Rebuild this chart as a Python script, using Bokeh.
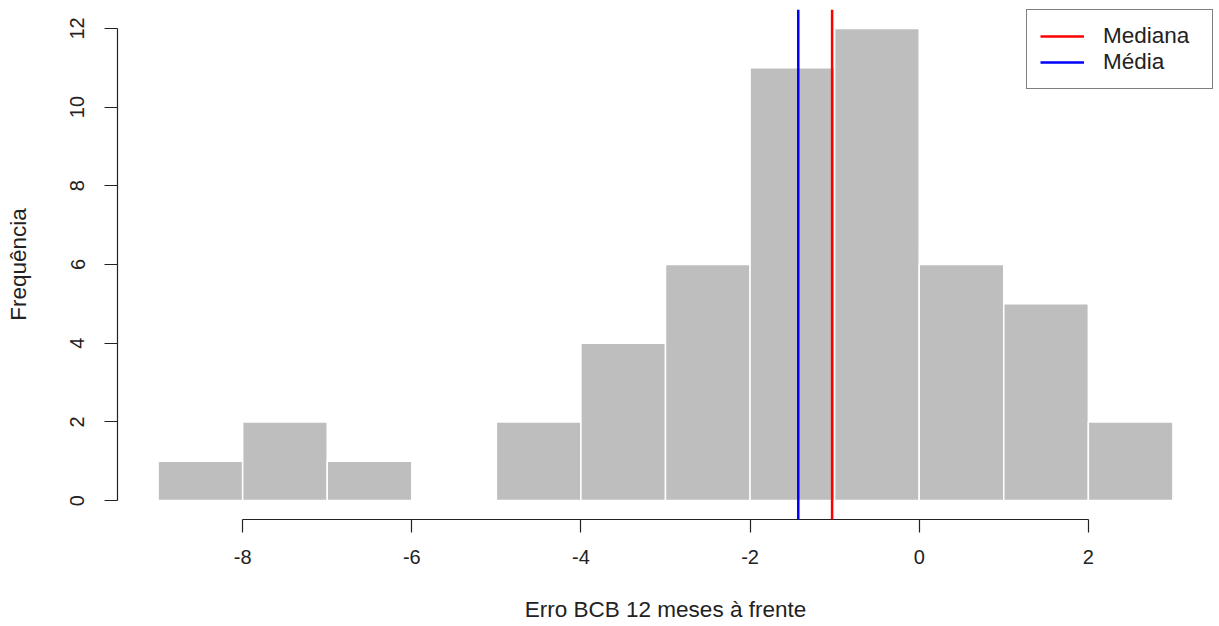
from bokeh.plotting import figure
from bokeh.models import Span, Legend, LegendItem, Range1d, FixedTicker
from bokeh.embed import file_html
from bokeh.resources import INLINE

bin_edges = [-9, -8, -7, -6, -5, -4, -3, -2, -1, 0, 1, 2, 3]
counts = [1, 2, 1, 0, 2, 4, 6, 11, 12, 6, 5, 2]
median_val = -1.03
mean_val = -1.43
x_ticks = [-8, -6, -4, -2, 0, 2]
y_ticks = [0, 2, 4, 6, 8, 10, 12]

FONT = "Liberation Sans"

p = figure(width=1214, height=624, output_backend="svg", toolbar_location=None,
           x_range=Range1d(-9.48, 3.48), y_range=Range1d(-0.48, 12.48),
           min_border_left=117, min_border_top=9, min_border_right=1, min_border_bottom=105)
p.outline_line_color = None
p.xgrid.grid_line_color = None
p.ygrid.grid_line_color = None

p.quad(left=bin_edges[:-1], right=bin_edges[1:], bottom=0, top=counts,
       fill_color="#BEBEBE", line_color="white", line_width=1.5)

p.add_layout(Span(location=median_val, dimension="height", line_color="red", line_width=2.5))
p.add_layout(Span(location=mean_val, dimension="height", line_color="blue", line_width=2.5))

# single-point lines: draw nothing in the plot, only provide legend glyphs
r_med = p.line(x=[median_val], y=[0], line_color="red", line_width=2.5)
r_mean = p.line(x=[mean_val], y=[0], line_color="blue", line_width=2.5)
legend = Legend(items=[LegendItem(label="Mediana", renderers=[r_med]),
                       LegendItem(label="Média", renderers=[r_mean])],
                location="top_right", margin=0, padding=13, spacing=0,
                glyph_width=44, label_standoff=19, label_height=20, glyph_height=20,
                label_width=96,
                border_line_color="black", border_line_width=1.2,
                background_fill_color="white", background_fill_alpha=1,
                label_text_font=FONT, label_text_font_size="22.5px", label_text_color="#222222")
p.add_layout(legend)

for ax in (p.xaxis[0], p.yaxis[0]):
    ax.axis_line_color = "#222222"
    ax.axis_line_width = 1.2
    ax.major_tick_line_color = "#222222"
    ax.major_tick_line_width = 1.2
    ax.major_tick_out = 13
    ax.major_tick_in = 0
    ax.minor_tick_out = 0
    ax.minor_tick_in = 0
    ax.major_label_text_font = FONT
    ax.major_label_text_font_size = "20px"
    ax.major_label_text_color = "#222222"
    ax.axis_label_text_font = FONT
    ax.axis_label_text_font_size = "22.5px"
    ax.axis_label_text_font_style = "normal"
    ax.axis_label_text_color = "#222222"

p.xaxis.ticker = FixedTicker(ticks=x_ticks)
p.yaxis.ticker = FixedTicker(ticks=y_ticks)
p.xaxis.major_label_overrides = {t: str(t) for t in x_ticks}
p.yaxis.major_label_overrides = {t: str(t) for t in y_ticks}
p.xaxis.bounds = (x_ticks[0], x_ticks[-1])
p.yaxis.bounds = (y_ticks[0], y_ticks[-1])
p.yaxis.major_label_orientation = "vertical"
p.xaxis.major_label_standoff = 17
p.yaxis.major_label_standoff = 20
p.xaxis.axis_label = "Erro BCB 12 meses à frente"
p.yaxis.axis_label = "Frequência"
p.xaxis.axis_label_standoff = 30
p.yaxis.axis_label_standoff = 37

open("out.html", "w").write(file_html(p, INLINE))
